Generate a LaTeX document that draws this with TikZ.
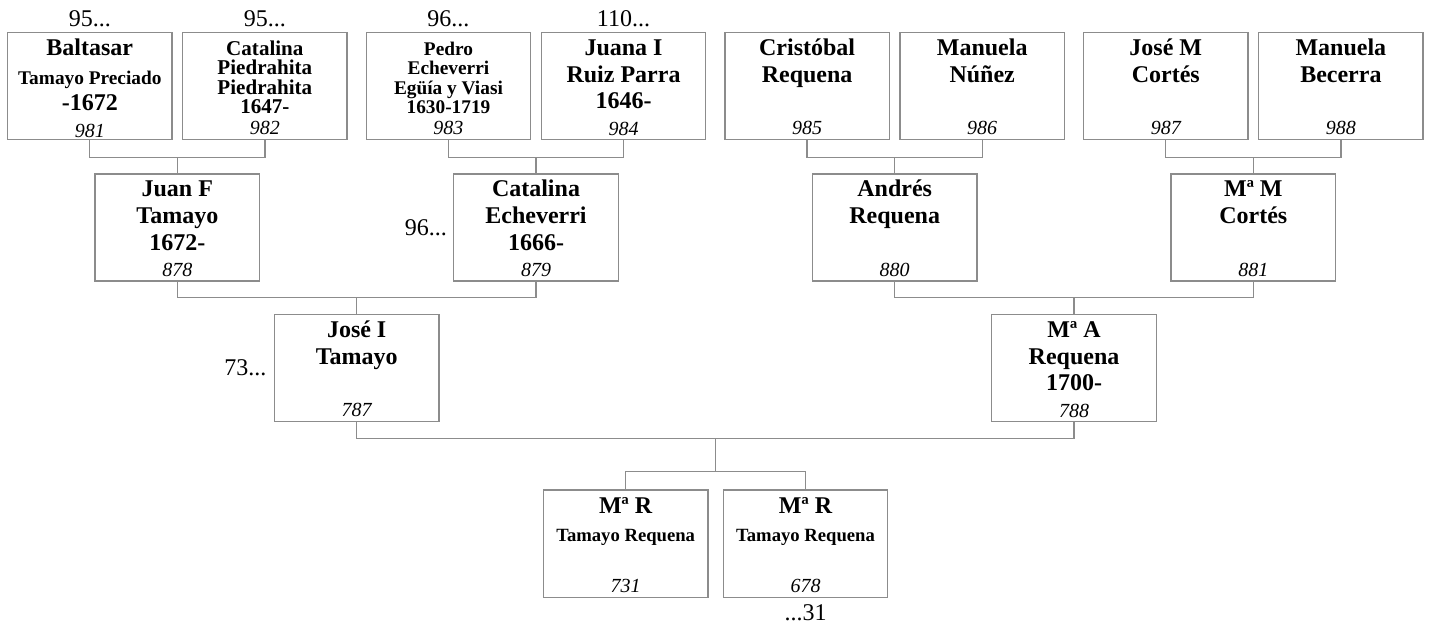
\documentclass[tikz,border=0pt]{standalone}
\usepackage{fontspec}
\setmainfont{Liberation Serif}
\usetikzlibrary{positioning,calc}
\colorlet{linegray}{black!45}
\newcommand{\bigname}{\fontsize{18}{20}\selectfont\bfseries}
\newcommand{\smallname}{\fontsize{14.5}{14.5}\selectfont\bfseries}
\newcommand{\numfont}{\normalfont\fontsize{15}{15}\selectfont\itshape}
\newcommand{\pbox}[2]{\parbox[c][73.4pt][t]{117pt}{\centering\bigname\rule{0pt}{13.75pt}#1\par\vfill{\numfont #2}}}

\begin{document}
\begin{tikzpicture}[
    person/.style={draw=linegray, line width=1pt, minimum width=123.4pt, minimum height=80.4pt, inner xsep=3pt, inner ysep=3.5pt},
    note/.style={inner sep=1pt, font=\fontsize{18}{20}\selectfont},
    link/.style={draw=linegray, line width=1pt}
]
\useasboundingbox (-67.35pt,64.5pt) rectangle (1005.15pt,-406.5pt);

% great-grandparents
\node[person] (p981) {\pbox{Baltasar\par{\fontsize{14.5}{21.5}\selectfont Tamayo Preciado\par}-1672}{981}};
\node[person, right=6.9pt of p981] (p982) {\pbox{\fontsize{15.8}{14.5}\selectfont Catalina\\Piedrahita\\Piedrahita\\1647-}{982}};
\node[person, right=13.3pt of p982] (p983) {\pbox{\smallname Pedro\\Echeverri\\Egüía y Viasi\\1630-1719}{983}};
\node[person, right=6.9pt of p983] (p984) {\pbox{Juana I\\Ruiz Parra\\1646-}{984}};
\node[person, right=13.3pt of p984] (p985) {\pbox{Cristóbal\\Requena}{985}};
\node[person, right=6.9pt of p985] (p986) {\pbox{Manuela\\Núñez}{986}};
\node[person, right=13.3pt of p986] (p987) {\pbox{José M\\Cortés}{987}};
\node[person, right=6.9pt of p987] (p988) {\pbox{Manuela\\Becerra}{988}};

% grandparents
\node[person, below=24.75pt of $(p981.south)!0.5!(p982.south)$] (p878) {\pbox{Juan F\\Tamayo\\1672-}{878}};
\node[person, below=24.75pt of $(p983.south)!0.5!(p984.south)$] (p879) {\pbox{Catalina\\Echeverri\\1666-}{879}};
\node[person, below=24.75pt of $(p985.south)!0.5!(p986.south)$] (p880) {\pbox{Andrés\\Requena}{880}};
\node[person, below=24.75pt of $(p987.south)!0.5!(p988.south)$] (p881) {\pbox{Mª M\\Cortés}{881}};

% parents
\node[person, below=24pt of $(p878.south)!0.5!(p879.south)$] (p787) {\pbox{José I\\Tamayo}{787}};
\node[person, below=24pt of $(p880.south)!0.5!(p881.south)$] (p788) {\pbox{Mª A\\Requena\\1700-}{788}};

% children
\node[person, below left=50.25pt and 5.06pt of $(p787.south)!0.5!(p788.south)$] (p731) {\pbox{Mª R\par{\fontsize{14}{21.5}\selectfont Tamayo Requena\par}}{731}};
\node[person, right=10.5pt of p731] (p678) {\pbox{Mª R\par{\fontsize{14}{21.5}\selectfont Tamayo Requena\par}}{678}};

% cross references
\node[note, above=2.75pt of p981] (n981) {95...};
\node[note, above=2.75pt of p982] (n982) {95...};
\node[note, above=2.75pt of p983] (n983) {96...};
\node[note, above=2.75pt of p984] (n984) {110...};
\node[note, left=3.5pt of p879] (n879) {96...};
\node[note, left=4.25pt of p787] (n787) {73...};
\node[note, below=4pt of p678] (n678) {...31};

% couples and their children
\draw[link] (p981.south) -- ++(0,-12.75pt) -| (p982.south);
\draw[link] (p878.north) -- ++(0,12pt);
\draw[link] (p983.south) -- ++(0,-12.75pt) -| (p984.south);
\draw[link] (p879.north) -- ++(0,12pt);
\draw[link] (p985.south) -- ++(0,-12.75pt) -| (p986.south);
\draw[link] (p880.north) -- ++(0,12pt);
\draw[link] (p987.south) -- ++(0,-12.75pt) -| (p988.south);
\draw[link] (p881.north) -- ++(0,12pt);

\draw[link] (p878.south) -- ++(0,-12pt) -| (p879.south);
\draw[link] (p787.north) -- ++(0,12pt);
\draw[link] (p880.south) -- ++(0,-12pt) -| (p881.south);
\draw[link] (p788.north) -- ++(0,12pt);

\draw[link] (p787.south) -- ++(0,-12pt) -| (p788.south);
\coordinate (sib) at ($(p787.south)!0.5!(p788.south)+(0,-36.75pt)$);
\draw[link] (sib) -- ++(0,24.75pt);
\draw[link] (p731.north) |- (sib) -| (p678.north);
\end{tikzpicture}
\end{document}
